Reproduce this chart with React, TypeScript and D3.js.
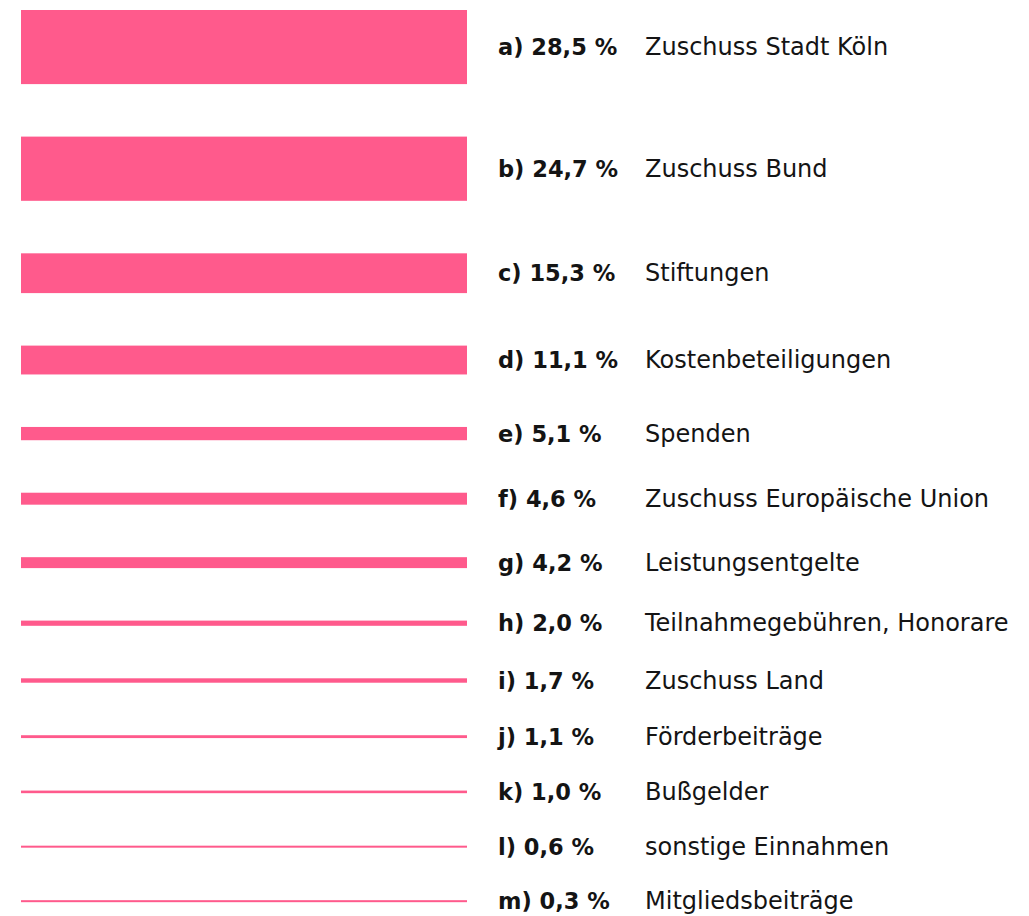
import React, { useLayoutEffect } from "react";
import * as d3 from "d3";

const letters = ["a", "b", "c", "d", "e", "f", "g", "h", "i", "j", "k", "l", "m"];
const values = [28.5, 24.7, 15.3, 11.1, 5.1, 4.6, 4.2, 2.0, 1.7, 1.1, 1.0, 0.6, 0.3];
const categories = [
  "Zuschuss Stadt Köln",
  "Zuschuss Bund",
  "Stiftungen",
  "Kostenbeteiligungen",
  "Spenden",
  "Zuschuss Europäische Union",
  "Leistungsentgelte",
  "Teilnahmegebühren, Honorare",
  "Zuschuss Land",
  "Förderbeiträge",
  "Bußgelder",
  "sonstige Einnahmen",
  "Mitgliedsbeiträge",
];

const W = 1029;
const H = 916;
const PINK = "#ff5a8c";
const TEXT = "#141414";
const FONT = "'DejaVu Sans', Verdana, sans-serif";

export default function App() {
  useLayoutEffect(() => {
    document.body.style.margin = "0";
  }, []);

  const x = d3.scaleLinear().domain([0, 1]).range([21, 467]);
  const thick = d3.scaleLinear().domain([0, 28.5]).range([0, 74.1]);
  const minT = 2;
  const gap = 52.5;
  const top0 = 10;

  const fmt = (v: number) => d3.format(".1f")(v).replace(".", ",") + " %";

  let y = top0;
  const rows = values.map((v, i) => {
    const t = Math.max(minT, thick(v));
    const r = { y, t, cy: y + t / 2, v, i };
    y += t + gap;
    return r;
  });

  return (
    <svg width={W} height={H} style={{ display: "block", background: "#fff" }}>
      {rows.map((r) => (
        <g key={r.i}>
          <rect x={x(0)} y={r.y} width={x(1) - x(0)} height={r.t} fill={PINK} />
          <text
            x={498}
            y={r.cy}
            dominantBaseline="central"
            fontFamily={FONT}
            fontWeight={700}
            fontSize={22.5}
            fill={TEXT}
          >
            {`${letters[r.i]}) ${fmt(r.v)}`}
          </text>
          <text
            x={645}
            y={r.cy}
            dominantBaseline="central"
            fontFamily={FONT}
            fontSize={24}
            fill={TEXT}
          >
            {categories[r.i]}
          </text>
        </g>
      ))}
    </svg>
  );
}
